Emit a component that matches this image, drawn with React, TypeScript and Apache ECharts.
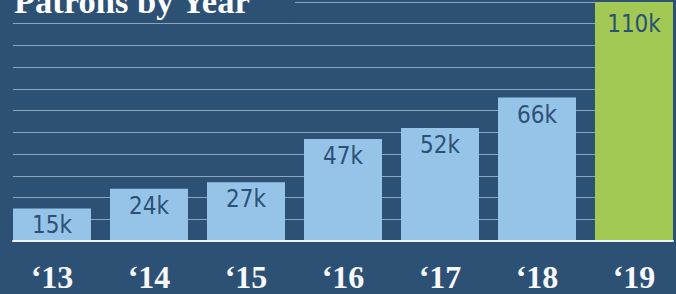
import React, { useEffect, useRef } from "react";
import * as echarts from "echarts";

const years = ["‘13", "‘14", "‘15", "‘16", "‘17", "‘18", "‘19"];
const patrons = [15, 24, 27, 47, 52, 66, 110];
const barColors = ["#96c4e9", "#96c4e9", "#96c4e9", "#96c4e9", "#96c4e9", "#96c4e9", "#a1c953"];
const yMin = 0;
const yMax = 110;
const yInterval = 10;
const titleText = "Patrons by Year";

const BG = "#2d5075";

export default function App() {
  const ref = useRef<HTMLDivElement>(null);
  useEffect(() => {
    document.body.style.margin = "0";
    const chart = echarts.init(ref.current!, null, { renderer: "svg" });
    chart.setOption({
      animation: false,
      backgroundColor: BG,
      title: {
        text: titleText,
        left: 0,
        top: -17,
        padding: [0, 44, 4, 14],
        backgroundColor: BG,
        textStyle: {
          color: "#ffffff",
          fontFamily: "Liberation Serif",
          fontWeight: "bold",
          fontSize: 34.5,
        },
        z: 10,
      },
      grid: [
        { left: 13, right: 3, top: 2, bottom: 53, outerBoundsMode: "none" },
        { left: 3.5, width: 679, top: 2, bottom: 53, outerBoundsMode: "none" },
      ],
      xAxis: [
        {
          type: "category",
          gridIndex: 0,
          data: years,
          axisLine: { show: true, lineStyle: { color: "#eef3f8", width: 2 } },
          axisTick: { show: false },
          axisLabel: { show: false },
          z: 5,
        },
        {
          type: "category",
          gridIndex: 1,
          data: years,
          axisLine: { show: false },
          axisTick: { show: false },
          axisLabel: {
            margin: 20,
            color: "#f7f9fc",
            fontFamily: "Liberation Serif",
            fontWeight: "bold",
            fontSize: 32,
          },
        },
      ],
      yAxis: [
        {
          type: "value",
          gridIndex: 0,
          min: yMin,
          max: yMax,
          interval: yInterval,
          axisLabel: { show: false },
          axisLine: { show: false },
          axisTick: { show: false },
          splitLine: { show: true, lineStyle: { color: "#8ba5c1", width: 1 } },
        },
        {
          type: "value",
          gridIndex: 1,
          min: yMin,
          max: yMax,
          interval: yInterval,
          axisLabel: { show: false },
          axisLine: { show: false },
          axisTick: { show: false },
          splitLine: { show: false },
        },
      ],
      series: [
        {
          type: "bar",
          xAxisIndex: 1,
          yAxisIndex: 1,
          barWidth: 78,
          data: patrons.map((v, i) => ({
            value: v,
            itemStyle: { color: barColors[i] },
            label: i === patrons.length - 1 ? { distance: 10 } : undefined,
          })),
          label: {
            show: true,
            position: "insideTop",
            distance: 5,
            formatter: (p: any) => `${p.value}k`,
            color: "#2d5075",
            fontFamily: "Liberation Sans Narrow, DejaVu Sans Condensed, sans-serif",
            fontSize: 24,
          },
        },
      ],
    });
    return () => chart.dispose();
  }, []);
  return (
    <div
      ref={ref}
      style={{ position: "absolute", left: 0, top: 0, width: 676, height: 294 }}
    />
  );
}
